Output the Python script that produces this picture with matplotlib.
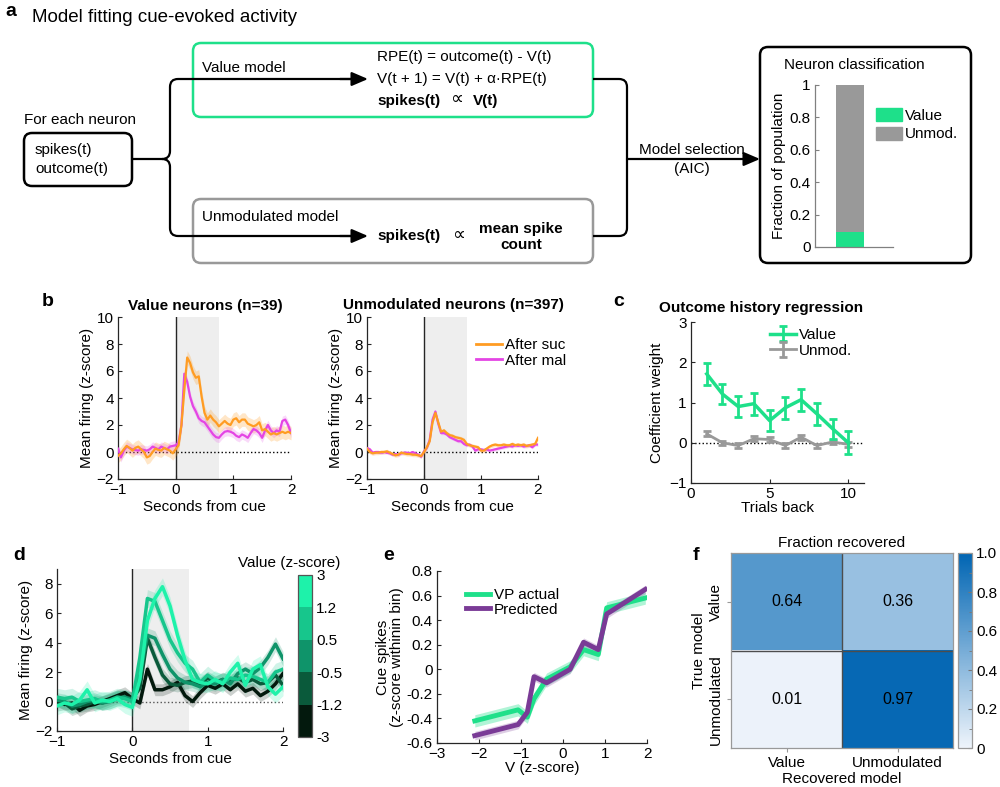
import numpy as np
import matplotlib
matplotlib.use("Agg")
import matplotlib.pyplot as plt
from matplotlib.patches import FancyBboxPatch, PathPatch, Patch
from matplotlib.path import Path
from matplotlib.lines import Line2D
from matplotlib.colors import ListedColormap, BoundaryNorm, LinearSegmentedColormap
import matplotlib.colorbar as mcb

plt.rcParams['font.family'] = ['Liberation Sans', 'DejaVu Sans']
plt.rcParams['font.size'] = 11
plt.rcParams['axes.linewidth'] = 0.9

# ---------------- data ----------------
# panel a inset: neuron classification
class_names = ['Value', 'Unmod.']
class_frac = [0.09, 0.91]

# panel b: mean firing, t from -1 to 2 s in 0.05 s steps
t_b = np.linspace(-1, 2, 61)
value_suc = [-0.3, -0.1, 0.2, 0.45, 0.3, 0.1, 0.3, 0.4, 0.2, 0.0, -0.4, -0.3, 0.0, 0.25, 0.15, 0.1, 0.3, 0.2, 0.1, -0.1,
             0.2, 0.5, 2.0, 4.6, 7.0, 6.6, 5.9, 5.5, 5.6, 4.1, 2.9, 2.4, 2.7, 2.4, 2.2, 1.9, 2.1, 2.3, 2.1, 2.0,
             2.4, 2.5, 2.2, 2.4, 2.4, 2.1, 2.0, 1.9, 2.0, 2.2, 1.6, 1.7, 1.5, 1.3, 1.4, 1.3, 1.4, 1.5, 1.4, 1.5, 1.4]
value_mal = [0.25, -0.4, 0.1, 0.4, 0.3, 0.2, 0.15, 0.1, 0.2, 0.15, 0.1, 0.2, 0.4, 0.3, 0.2, 0.4, 0.3, 0.2, 0.4, 0.45,
             0.5, 0.7, 2.0, 5.8, 5.2, 4.1, 3.4, 3.0, 2.5, 2.3, 2.2, 1.9, 1.6, 1.3, 1.1, 1.05, 1.3, 1.5, 1.55, 1.5,
             1.4, 1.2, 1.1, 1.3, 1.2, 1.05, 1.4, 1.7, 1.6, 1.4, 1.05, 1.6, 2.0, 1.6, 1.4, 1.6, 1.5, 2.3, 2.4, 2.0, 1.4]
unmod_suc = [0.25, 0.0, -0.1, -0.05, -0.05, 0.0, 0.0, 0.05, -0.05, -0.15, -0.25, -0.2, -0.05, -0.1, -0.15, -0.15, -0.2, -0.2, -0.25, -0.3,
             0.0, 0.35, 0.8, 2.2, 2.9, 2.2, 1.5, 1.6, 1.4, 1.25, 1.2, 1.1, 1.05, 1.0, 0.9, 0.6, 0.5, 0.45, 0.4, 0.35,
             0.1, 0.1, 0.25, 0.4, 0.5, 0.55, 0.5, 0.5, 0.55, 0.5, 0.5, 0.6, 0.5, 0.55, 0.5, 0.55, 0.45, 0.5, 0.55, 0.6, 1.05]
unmod_mal = [0.3, 0.2, -0.05, 0.0, 0.0, -0.05, 0.0, -0.05, -0.1, -0.2, -0.15, -0.2, -0.1, -0.05, -0.05, -0.1, 0.0, -0.1, -0.2, -0.35,
             0.05, 0.3, 0.9, 2.4, 3.0, 2.1, 1.4, 1.4, 1.3, 1.1, 1.0, 0.9, 0.8, 0.8, 0.6, 0.5, 0.55, 0.4, 0.1, 0.2,
             0.2, 0.15, 0.2, 0.1, 0.15, 0.2, 0.25, 0.3, 0.35, 0.4, 0.45, 0.4, 0.5, 0.45, 0.5, 0.4, 0.45, 0.5, 0.35, 0.55, 0.55]
sem_value = [0.5, 0.35]
sem_unmod = [0.15, 0.12]

# panel c: outcome history regression
trials_back = [1, 2, 3, 4, 5, 6, 7, 8, 9, 10]
coef_value = [1.71, 1.21, 0.9, 0.97, 0.55, 0.87, 1.07, 0.72, 0.35, 0.0]
err_value = [0.28, 0.25, 0.27, 0.27, 0.27, 0.27, 0.27, 0.27, 0.25, 0.28]
coef_unmod = [0.22, 0.0, -0.07, 0.1, 0.08, -0.07, 0.14, -0.07, 0.02, -0.04]
err_unmod = [0.06, 0.05, 0.06, 0.06, 0.06, 0.06, 0.06, 0.05, 0.05, 0.06]

# panel d: firing by value bin, t from -1 to 2 s in 0.1 s steps
t_d = np.linspace(-1, 2, 31)
bin_edges = ['-3', '-1.2', '-0.5', '0.5', '1.2', '3']
fr_bin1 = [0.1, -0.2, -0.1, -0.6, -0.3, -0.2, 0.0, 0.2, 0.4, 0.6, 0.2, -0.1, 2.2, 0.8, 0.8, 1.0, 1.3, 0.4, 0.0, 0.6,
           1.1, 0.9, 1.2, 0.8, 1.2, 0.7, 0.9, 0.4, 0.7, 1.2, 1.9]
fr_bin2 = [-0.2, -0.1, -0.5, -0.3, -0.2, 0.0, -0.1, 0.1, 0.3, 0.3, 0.2, 0.9, 4.3, 3.0, 1.8, 1.2, 1.1, 1.3, 1.4, 1.2,
           1.6, 1.3, 1.5, 1.4, 1.6, 1.3, 1.5, 1.2, 1.3, 1.8, 1.1]
fr_bin3 = [0.1, 0.0, -0.3, -0.2, 0.0, 0.1, -0.1, 0.0, 0.2, 0.3, 0.1, 1.8, 4.5, 4.3, 3.2, 2.2, 1.6, 1.3, 1.2, 1.0,
           1.3, 1.2, 1.5, 1.2, 1.9, 2.2, 1.9, 2.3, 3.0, 3.9, 2.9]
fr_bin4 = [0.3, 0.2, 0.3, 0.0, 0.1, 0.2, 0.0, 0.1, 0.3, 0.2, 0.0, 3.0, 7.0, 6.8, 5.5, 4.2, 3.3, 2.6, 2.2, 1.3,
           1.8, 1.4, 1.3, 1.6, 1.5, 1.8, 1.7, 1.5, 1.3, 2.0, 2.2]
fr_bin5 = [-0.3, -0.1, -0.2, 0.1, 0.8, -0.1, 0.1, 0.0, 0.2, -0.2, -0.4, 1.5, 5.5, 7.0, 7.8, 6.5, 4.5, 2.8, 1.5, 1.3,
           1.2, 1.5, 1.2, 2.0, 2.6, 1.1, 2.2, 2.5, 1.0, 0.5, 1.0]
sem_bins = [0.4, 0.45, 0.5, 0.6, 0.6]

# panel e: actual vs predicted cue spikes
v_bins = [-2.1, -1.07, -0.85, -0.69, -0.39, 0.17, 0.49, 0.84, 1.04, 1.96]
vp_actual = [-0.42, -0.33, -0.39, -0.24, -0.08, 0.02, 0.16, 0.12, 0.5, 0.58]
vp_pred = [-0.54, -0.45, -0.35, -0.06, -0.11, 0.0, 0.22, 0.16, 0.45, 0.65]
sem_actual = 0.05
sem_pred = 0.035

# panel f: model recovery
model_names = ['Value', 'Unmodulated']
recovery = [[0.64, 0.36], [0.01, 0.97]]

# ---------------- figure ----------------
W, H = 1000, 787


def rect(x0, y0, x1, y1):
    return [x0 / W, 1 - y1 / H, (x1 - x0) / W, (y1 - y0) / H]


GREEN = '#1EE08A'
GRAY = '#999999'
ORANGE = '#FF9C22'
MAGENTA = '#E445E4'
PURPLE = '#7A3B96'
AXC = '#262626'

fig = plt.figure(figsize=(10, 7.87), dpi=100)

# overlay for panel a diagram and panel letters
ov = fig.add_axes([0, 0, 1, 1])
ov.set_xlim(0, W)
ov.set_ylim(H, 0)
ov.axis('off')


def rbox(x0, y0, x1, y1, ec):
    ov.add_patch(FancyBboxPatch((x0, y0), x1 - x0, y1 - y0,
                                boxstyle="round,pad=0,rounding_size=8",
                                fc='none', ec=ec, lw=1.8))


def curve(verts, codes):
    ov.add_patch(PathPatch(Path(verts, codes), fc='none', ec='k', lw=1.6))


def arrow(x0, x1, y):
    ov.annotate('', xy=(x1, y), xytext=(x0, y),
                arrowprops=dict(arrowstyle='-|>,head_length=0.7,head_width=0.3',
                                color='k', lw=1.6, mutation_scale=14,
                                shrinkA=0, shrinkB=0))


M, L, Q = Path.MOVETO, Path.LINETO, Path.CURVE3

ov.text(5, 12, 'a', fontsize=14, fontweight='bold', va='center')
ov.text(32, 18, 'Model fitting cue-evoked activity', fontsize=13.5, va='center')

ov.text(24, 120, 'For each neuron', va='center')
rbox(24, 133, 132, 186, 'k')
ov.text(35, 150, 'spikes(t)', va='center')
ov.text(35, 169, 'outcome(t)', va='center')

rbox(193, 43, 593, 117, GREEN)
rbox(193, 199, 593, 263, GRAY)
ov.text(202, 68, 'Value model', va='center')
ov.text(202, 217, 'Unmodulated model', va='center')
ov.text(377, 57, 'RPE(t) = outcome(t) - V(t)', va='center')
ov.text(377, 79, 'V(t + 1) = V(t) + α·RPE(t)', va='center')
ov.text(377, 101, 'spikes(t)', va='center', fontweight='bold')
ov.text(450, 100, '∝', va='center', fontsize=13)
ov.text(473, 101, 'V(t)', va='center', fontweight='bold')
ov.text(377, 236, 'spikes(t)', va='center', fontweight='bold')
ov.text(452, 235, '∝', va='center', fontsize=13)
ov.text(521, 237, 'mean spike\ncount', va='center', ha='center', fontweight='bold',
        linespacing=1.25)

curve([(133, 159), (162, 159), (170, 159), (170, 151), (170, 87), (170, 79), (178, 79), (360, 79)],
      [M, L, Q, Q, L, Q, Q, L])
curve([(162, 159), (170, 159), (170, 167), (170, 228), (170, 236), (178, 236), (360, 236)],
      [M, Q, Q, L, Q, Q, L])
arrow(340, 368, 79)
arrow(340, 368, 236)
curve([(593, 79), (619, 79), (627, 79), (627, 87), (627, 228), (627, 236), (619, 236), (593, 236)],
      [M, L, Q, Q, L, Q, Q, L])
arrow(627, 760, 159)
ov.text(692, 150, 'Model selection', va='center', ha='center')
ov.text(692, 169, '(AIC)', va='center', ha='center')

rbox(760, 47, 971, 263, 'k')
ov.text(854, 65, 'Neuron classification', va='center', ha='center')

# inset bar
bx = fig.add_axes(rect(815, 85, 893, 247))
bx.patch.set_alpha(0)
bx.bar([1], [class_frac[0]], width=0.7, color=GREEN)
bx.bar([1], [class_frac[1]], width=0.7, bottom=[class_frac[0]], color=GRAY)
bx.set_xlim(0.1, 2.1)
bx.set_ylim(0, 1)
bx.set_xticks([])
bx.set_yticks([0, 0.2, 0.4, 0.6, 0.8, 1])
bx.set_yticklabels(['0', '0.2', '0.4', '0.6', '0.8', '1'])
for s in ['top', 'right']:
    bx.spines[s].set_visible(False)
for s in ['left', 'bottom']:
    bx.spines[s].set_color('#808080')
bx.tick_params(axis='y', direction='in', length=3, color='#808080', pad=3)
bx.set_ylabel('Fraction of population', labelpad=3)
bx.legend([Patch(color=GREEN), Patch(color=GRAY)], class_names, loc='upper left',
          bbox_to_anchor=(876 / W, 1 - 108 / H), bbox_transform=fig.transFigure,
          frameon=False, handlelength=1.7, handleheight=0.95, handletextpad=0.2,
          labelspacing=0.25, borderpad=0, borderaxespad=0, fontsize=11)


def style(ax):
    ax.patch.set_alpha(0)
    for s in ['top', 'right']:
        ax.spines[s].set_visible(False)
    for s in ['left', 'bottom']:
        ax.spines[s].set_color(AXC)
    ax.tick_params(direction='in', length=3, color=AXC, pad=3)


# ---------------- panel b ----------------
ov.text(42, 302, 'b', fontsize=14, fontweight='bold', va='center')
b_sets = [
    (rect(118, 317, 291, 479), value_suc, value_mal, sem_value, 'Value neurons (n=39)'),
    (rect(367, 317, 538, 479), unmod_suc, unmod_mal, sem_unmod, 'Unmodulated neurons (n=397)'),
]
for pos, suc, mal, sem, title in b_sets:
    ax = fig.add_axes(pos)
    style(ax)
    ax.axvspan(0, 0.75, color='#EEEEEE', lw=0, zorder=0)
    ax.axvline(0, color=AXC, lw=1, zorder=1)
    ax.axhline(0, color='k', lw=1, ls=':', zorder=1)
    suc = np.array(suc)
    mal = np.array(mal)
    ax.fill_between(t_b, suc - sem[0], suc + sem[0], color=ORANGE, alpha=0.25, lw=0, zorder=2)
    ax.fill_between(t_b, mal - sem[1], mal + sem[1], color=MAGENTA, alpha=0.2, lw=0, zorder=2)
    ax.plot(t_b, mal, color=MAGENTA, lw=1.6, zorder=3, label='After mal')
    ax.plot(t_b, suc, color=ORANGE, lw=1.6, zorder=4, label='After suc')
    ax.set_xlim(-1, 2)
    ax.set_ylim(-2, 10)
    ax.set_xticks([-1, 0, 1, 2])
    ax.set_yticks([-2, 0, 2, 4, 6, 8, 10])
    ax.set_xlabel('Seconds from cue', labelpad=2)
    ax.set_ylabel('Mean firing (z-score)', labelpad=2)
    last_b = ax
ov.text(205, 306, 'Value neurons (n=39)', fontweight='bold', ha='center', va='center')
ov.text(453, 305, 'Unmodulated neurons (n=397)', fontweight='bold', ha='center', va='center')
last_b.legend([Line2D([], [], color=ORANGE, lw=2), Line2D([], [], color=MAGENTA, lw=2)],
              ['After suc', 'After mal'], loc='upper left',
              bbox_to_anchor=(476 / W, 1 - 338 / H), bbox_transform=fig.transFigure,
              frameon=False, handlelength=1.7, handletextpad=0.2, labelspacing=0.1,
              borderpad=0, borderaxespad=0)

# ---------------- panel c ----------------
ov.text(613, 302, 'c', fontsize=14, fontweight='bold', va='center')
cx = fig.add_axes(rect(691, 322, 864, 483))
style(cx)
cx.axhline(0, color='k', lw=1, ls=':', zorder=1)
hv = cx.errorbar(trials_back, coef_value, yerr=err_value, color=GREEN, lw=2.5,
                 elinewidth=2, capsize=3, capthick=2, zorder=3)
hu = cx.errorbar(trials_back, coef_unmod, yerr=err_unmod, color=GRAY, lw=2,
                 elinewidth=2, capsize=3, capthick=2, zorder=2)
cx.set_xlim(0, 11)
cx.set_ylim(-1, 3)
cx.set_xticks([0, 5, 10])
cx.set_yticks([-1, 0, 1, 2, 3])
cx.set_xlabel('Trials back', labelpad=0)
cx.set_ylabel('Coefficient weight', labelpad=4)
ov.text(761, 308, 'Outcome history regression', fontweight='bold', ha='center', va='center')
cx.legend([hv, hu], ['Value', 'Unmod.'], loc='upper left',
          bbox_to_anchor=(770 / W, 1 - 328 / H), bbox_transform=fig.transFigure,
          frameon=False, handlelength=1.7, handletextpad=0.2, labelspacing=0.1,
          borderpad=0, borderaxespad=0)

# ---------------- panel d ----------------
ov.text(13, 555, 'd', fontsize=14, fontweight='bold', va='center')
dx = fig.add_axes(rect(57, 569, 283, 731))
style(dx)
bin_colors = ['#03190D', '#0A5A3B', '#0F946A', '#17C68C', '#1EF2AA']
dx.axvspan(0, 0.75, color='#EEEEEE', lw=0, zorder=0)
dx.axvline(0, color=AXC, lw=1, zorder=1)
dx.axhline(0, color='#555555', lw=1, ls=':', zorder=1)
for fr, c, sm in zip([fr_bin1, fr_bin2, fr_bin3, fr_bin4, fr_bin5], bin_colors, sem_bins):
    fr = np.array(fr)
    dx.fill_between(t_d, fr - sm, fr + sm, color=c, alpha=0.2, lw=0, zorder=2)
for fr, c in zip([fr_bin1, fr_bin2, fr_bin3, fr_bin4, fr_bin5], bin_colors):
    dx.plot(t_d, fr, color=c, lw=2.5, zorder=3)
dx.set_xlim(-1, 2)
dx.set_ylim(-2, 9)
dx.set_xticks([-1, 0, 1, 2])
dx.set_yticks([-2, 0, 2, 4, 6, 8])
dx.set_xlabel('Seconds from cue', labelpad=2)
dx.set_ylabel('Mean firing (z-score)', labelpad=2)

dcax = fig.add_axes(rect(298, 575, 312, 737))
dcb = mcb.ColorbarBase(dcax, cmap=ListedColormap(bin_colors),
                       norm=BoundaryNorm(np.arange(6), 5), ticks=np.arange(6))
dcb.set_ticklabels(bin_edges)
dcb.outline.set_edgecolor('#555555')
dcax.tick_params(length=0, pad=3)
ov.text(289, 563, 'Value (z-score)', ha='center', va='center')

# ---------------- panel e ----------------
ov.text(383, 555, 'e', fontsize=14, fontweight='bold', va='center')
ex = fig.add_axes(rect(437, 571, 647, 743))
style(ex)
va = np.array(vp_actual)
vpd = np.array(vp_pred)
ex.fill_between(v_bins, va - sem_actual, va + sem_actual, color=GREEN, alpha=0.35, lw=0)
ex.fill_between(v_bins, vpd - sem_pred, vpd + sem_pred, color=PURPLE, alpha=0.25, lw=0)
ex.plot(v_bins, va, color=GREEN, lw=3.5, label='VP actual')
ex.plot(v_bins, vpd, color=PURPLE, lw=3.5, label='Predicted')
ex.set_xlim(-3, 2)
ex.set_ylim(-0.6, 0.8)
ex.set_xticks([-3, -2, -1, 0, 1, 2])
ex.set_yticks([-0.6, -0.4, -0.2, 0, 0.2, 0.4, 0.6, 0.8])
ex.set_yticklabels(['-0.6', '-0.4', '-0.2', '0', '0.2', '0.4', '0.6', '0.8'])
ex.set_xlabel('V (z-score)', labelpad=0)
ex.set_ylabel('Cue spikes\n(z-score withinin bin)', labelpad=2, linespacing=1.0)
ex.legend(loc='upper left', bbox_to_anchor=(466 / W, 1 - 588 / H), bbox_transform=fig.transFigure,
          frameon=False, handlelength=1.6, handletextpad=0.2, labelspacing=0.05,
          borderpad=0, borderaxespad=0)

# ---------------- panel f ----------------
ov.text(693, 555, 'f', fontsize=14, fontweight='bold', va='center')
fx = fig.add_axes(rect(731, 553, 953, 748))
cmap_f = LinearSegmentedColormap.from_list('blues_f', ['#EEF4FB', '#0065B3'])
im = fx.imshow(recovery, cmap=cmap_f, vmin=0, vmax=1, aspect='auto')
for i in range(2):
    for j in range(2):
        fx.text(j, i, f'{recovery[i][j]:.2f}', ha='center', va='center', fontsize=11.5)
fx.axhline(0.5, color='#4D4D4D', lw=1)
fx.axvline(0.5, color='#4D4D4D', lw=1)
for s in fx.spines.values():
    s.set_color('#999999')
fx.set_xticks([0, 1])
fx.set_xticklabels(model_names)
fx.set_yticks([0, 1])
fx.set_yticklabels(model_names, rotation=90, va='center')
fx.tick_params(length=3, color='#999999', pad=3)
fx.set_xlabel('Recovered model', labelpad=1)
fx.set_ylabel('True model', labelpad=2)
fx.set_title('Fraction recovered', fontsize=11, pad=4)

fcax = fig.add_axes(rect(958, 553, 972, 748))
fcb = fig.colorbar(im, cax=fcax, ticks=[0, 0.2, 0.4, 0.6, 0.8, 1.0])
fcb.set_ticklabels(['0', '0.2', '0.4', '0.6', '0.8', '1.0'])
fcb.outline.set_edgecolor('#999999')
fcax.set_yticks(np.linspace(0, 1, 11), minor=True)
fcax.tick_params(which='both', direction='in', color='#777777', pad=3)
fcax.tick_params(which='major', length=3)
fcax.tick_params(which='minor', length=2)

fig.savefig('out.png', dpi=100)
